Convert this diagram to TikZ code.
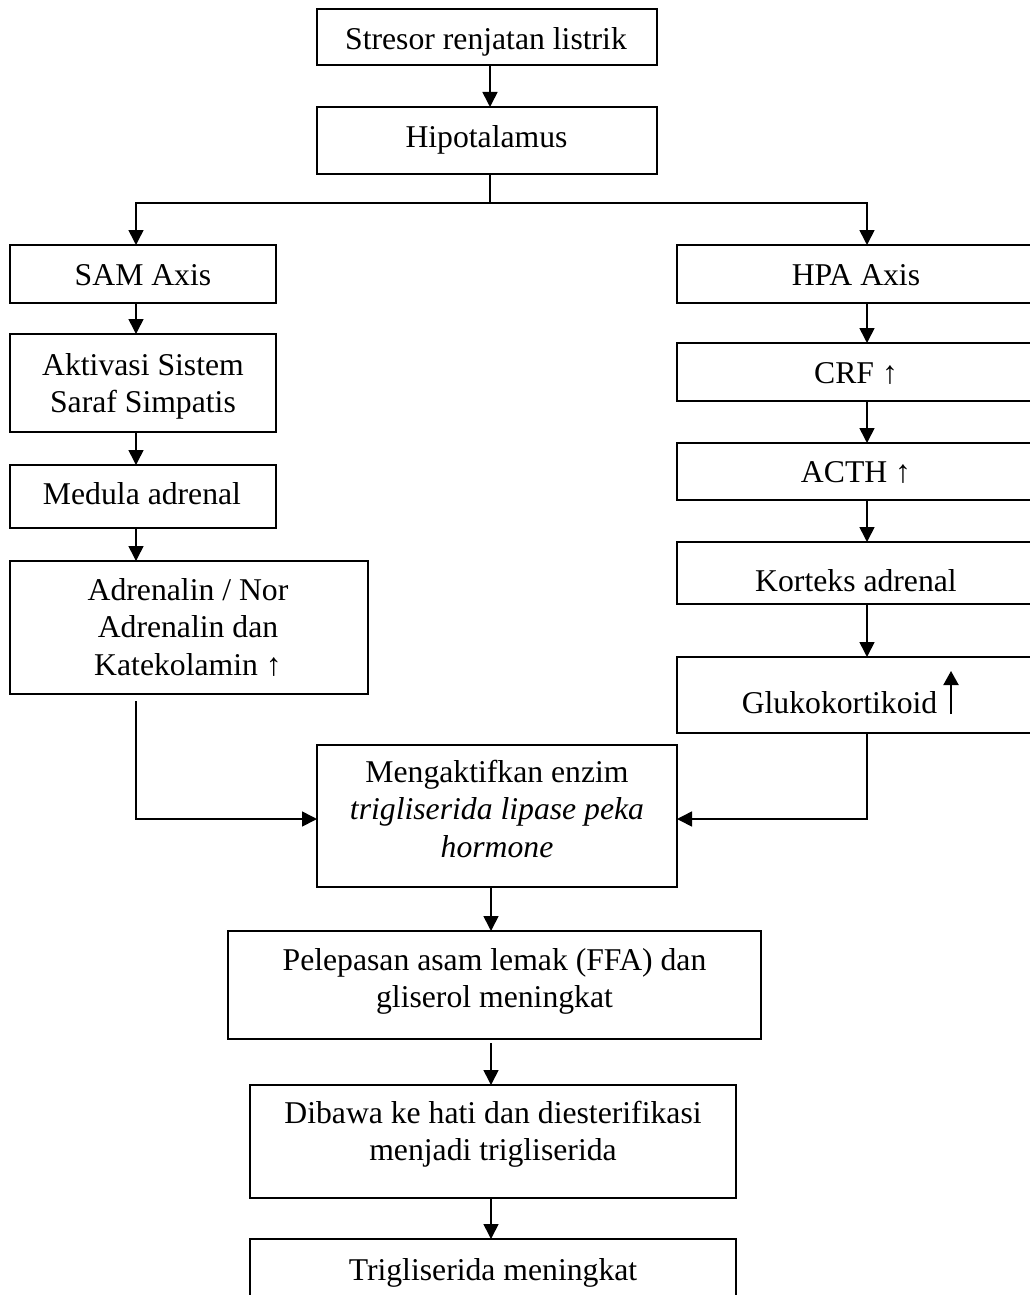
\documentclass[tikz,border=0pt]{standalone}
\usepackage{fontspec}
\setmainfont{Liberation Serif}
\usetikzlibrary{arrows.meta}
\newcommand\tfont{\fontsize{31.7}{37.5}\selectfont}
\begin{document}
\begin{tikzpicture}[x=1pt,y=-1pt,
  box/.style={draw, line width=1.8pt, inner sep=0pt, outer sep=0pt},
  txt/.style={inner sep=0pt, align=center, font=\tfont},
  link/.style={line width=1.6pt},
  arr/.style={line width=1.6pt, -{Triangle[width=15pt,length=15pt]}},
  bigarr/.style={line width=2pt, -{Triangle[width=15pt,length=14pt]}}]
\useasboundingbox (0,0) rectangle (1029,1295);
% column coordinates
\coordinate (cL) at (136,0);
\coordinate (cM) at (490,0);
\coordinate (cC) at (491,0);
\coordinate (cR) at (867,0);
\coordinate (split) at (490,203);
% boxes
\node[box, minimum width=340pt, minimum height=56pt] (stresor) at (487,37) {};
\node[box, minimum width=340pt, minimum height=67pt] (hipo) at (487,140.5) {};
\node[box, minimum width=266pt, minimum height=58pt] (sam) at (143,274) {};
\node[box, minimum width=266pt, minimum height=98pt] (akt) at (143,383) {};
\node[box, minimum width=266pt, minimum height=63pt] (med) at (143,496.5) {};
\node[box, minimum width=358pt, minimum height=133pt] (adr) at (189,627.5) {};
\node[box, minimum width=358pt, minimum height=58pt] (hpa) at (856,274) {};
\node[box, minimum width=358pt, minimum height=58pt] (crf) at (856,372) {};
\node[box, minimum width=358pt, minimum height=57pt] (acth) at (856,471.5) {};
\node[box, minimum width=358pt, minimum height=62pt] (kort) at (856,573) {};
\node[box, minimum width=358pt, minimum height=76pt] (gluko) at (856,695) {};
\node[box, minimum width=360pt, minimum height=142pt] (meng) at (497,816) {};
\node[box, minimum width=533pt, minimum height=108pt] (pel) at (494.5,985) {};
\node[box, minimum width=486pt, minimum height=113pt] (dib) at (493,1141.5) {};
\node[box, minimum width=486pt, minimum height=91pt] (tri) at (493,1284.5) {};
% texts
\node[txt] (tstresor) at (486,42.5) {\strut Stresor renjatan listrik};
\node[txt] (thipo) at (486.5,140.2) {\strut Hipotalamus};
\node[txt] (tsam) at (143,277.5) {\strut SAM Axis};
\node[txt] (takt) at (143,386.3) {\strut Aktivasi Sistem\\\strut Saraf Simpatis};
\node[txt] (tmed) at (142,496.5) {\strut Medula adrenal};
\node[txt] (tadr) at (188,630.3) {\strut Adrenalin / Nor\\\strut Adrenalin dan\\\strut Katekolamin ↑};
\node[txt] (thpa) at (856,277.5) {\strut HPA Axis};
\node[txt] (tcrf) at (856,375.5) {\strut CRF ↑};
\node[txt] (tacth) at (856,474.5) {\strut ACTH ↑};
\node[txt] (tkort) at (856,583.5) {\strut Korteks adrenal};
\node[txt] (tgluko) at (839.5,705.5) {\strut Glukokortikoid};
\node[txt] (tmeng) at (497,812.2) {\strut Mengaktifkan enzim\\\strut\textit{trigliserida lipase peka}\\\strut\textit{hormone}};
\node[txt] (tpel) at (494.5,981.5) {\strut Pelepasan asam lemak (FFA) dan\\\strut gliserol meningkat};
\node[txt] (tdib) at (493,1134.3) {\strut Dibawa ke hati dan diesterifikasi\\\strut menjadi trigliserida};
\node[txt] (ttri) at (493,1272.5) {\strut Trigliserida meningkat};
% big up arrow next to Glukokortikoid
\coordinate (gaB) at (951,714);
\coordinate (gaT) at (951,671);
\draw[bigarr] (gaB) -- (gaT);
% connectors
\draw[arr] (stresor.south -| cM) -- (hipo.north -| cM);
\draw[link] (hipo.south -| cM) -- (split);
\draw[arr] (split) -| (sam.north -| cL);
\draw[arr] (split) -| (hpa.north -| cR);
\draw[arr] (sam.south -| cL) -- (akt.north -| cL);
\draw[arr] (akt.south -| cL) -- (med.north -| cL);
\draw[arr] (med.south -| cL) -- (adr.north -| cL);
\draw[arr] (hpa.south -| cR) -- (crf.north -| cR);
\draw[arr] (crf.south -| cR) -- (acth.north -| cR);
\draw[arr] (acth.south -| cR) -- (kort.north -| cR);
\draw[arr] (kort.south -| cR) -- (gluko.north -| cR);
\draw[arr] ([yshift=-7pt]adr.south -| cL) |- ([yshift=-3pt]meng.west);
\draw[arr] (gluko.south -| cR) |- ([yshift=-3pt]meng.east);
\draw[arr] (meng.south -| cC) -- (pel.north -| cC);
\draw[arr] ([yshift=-4pt]pel.south -| cC) -- (dib.north -| cC);
\draw[arr] (dib.south -| cC) -- (tri.north -| cC);
\end{tikzpicture}
\end{document}
